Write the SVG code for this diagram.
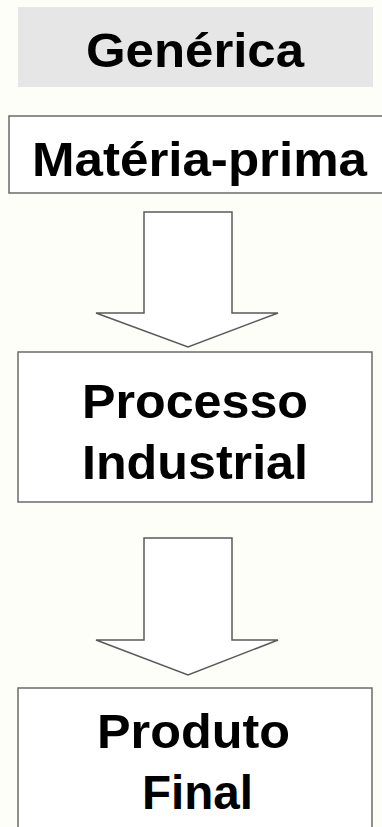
<svg xmlns="http://www.w3.org/2000/svg" width="382" height="827" viewBox="0 0 382 827">
<style>
.bg{fill:#fefef9}
.box{fill:#ffffff;stroke:#6b6b6b;stroke-width:1.5}
.hdr{fill:#e6e6e6}
.arrow{fill:#ffffff;stroke:#5a5a5a;stroke-width:1.5;stroke-linejoin:miter}
.t{font-family:"Liberation Sans",Arial,sans-serif;font-weight:bold;font-size:48px;fill:#000}
</style>
<rect class="bg" x="0" y="0" width="382" height="827"/>
<g id="generica">
<rect class="hdr" x="18" y="7" width="355" height="80"/>
<text class="t" x="86" y="67" textLength="218" lengthAdjust="spacingAndGlyphs">Genérica</text>
</g>
<g id="materia-prima">
<rect class="box" x="9" y="116" width="380" height="77"/>
<text class="t" x="32" y="176" textLength="335" lengthAdjust="spacingAndGlyphs">Matéria-prima</text>
</g>
<g id="processo">
<rect class="box" x="18" y="352" width="354" height="150"/>
<text class="t" x="82" y="418" textLength="226" lengthAdjust="spacingAndGlyphs">Processo</text>
<text class="t" x="82" y="479" textLength="226" lengthAdjust="spacingAndGlyphs">Industrial</text>
</g>
<g id="produto">
<rect class="box" x="18" y="688" width="354" height="150"/>
<text class="t" x="97" y="748" textLength="193" lengthAdjust="spacingAndGlyphs">Produto</text>
<text class="t" x="142" y="809" textLength="111" lengthAdjust="spacingAndGlyphs">Final</text>
</g>
<g id="connectors">
<path class="arrow" d="M144,212 H232 V313 H278 L188,347 L96,313 H144 Z"/>
<path class="arrow" d="M144,538 H232 V640 H278 L188,675 L96,640 H144 Z"/>
</g>
</svg>
